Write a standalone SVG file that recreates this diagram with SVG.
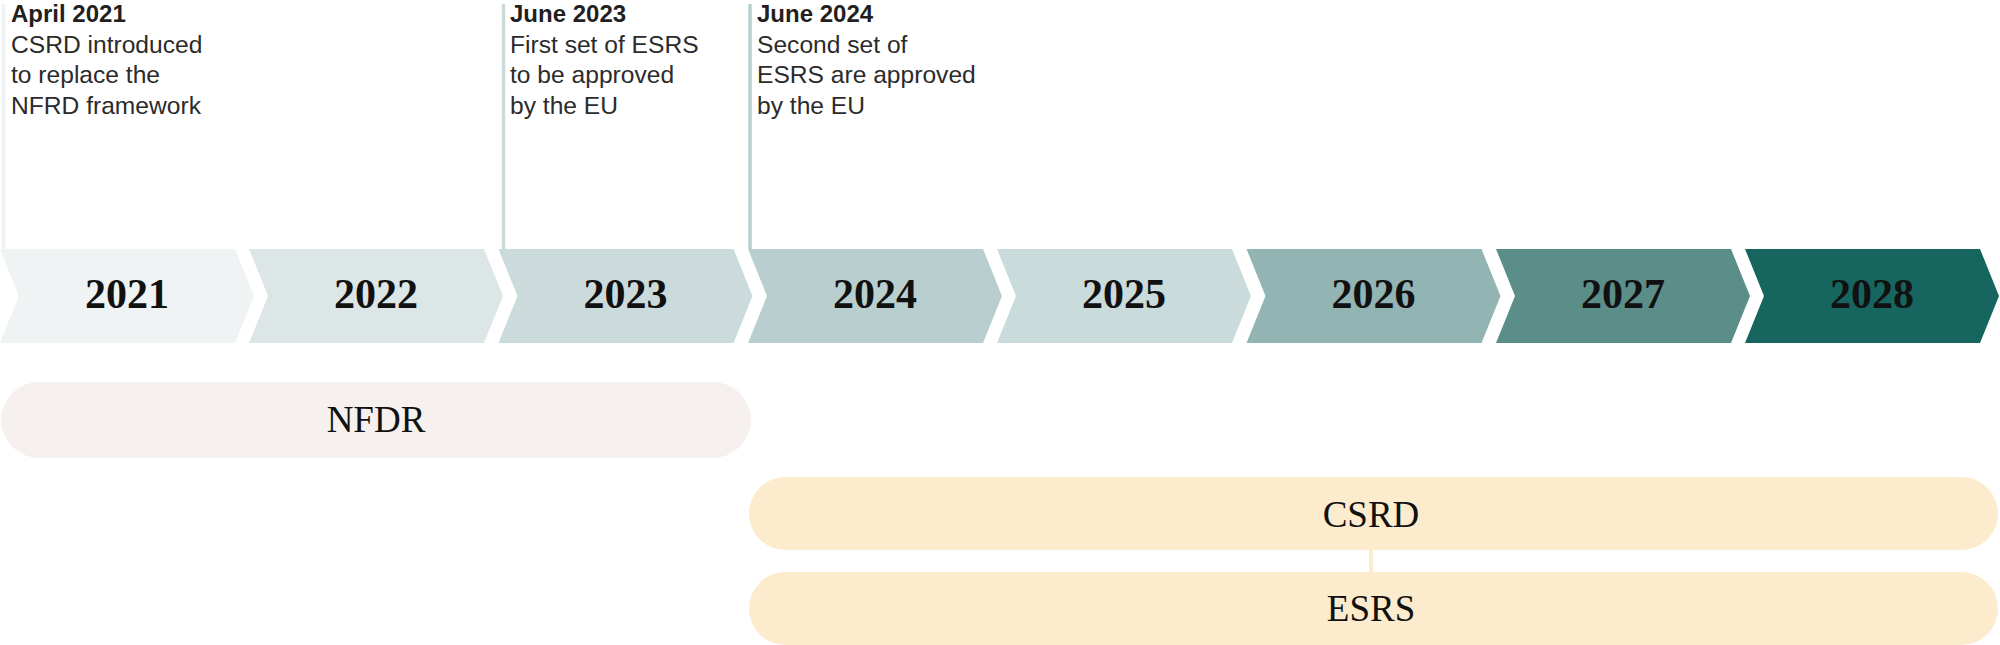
<svg xmlns="http://www.w3.org/2000/svg" width="2000" height="645" viewBox="0 0 2000 645">
  <style>
    .yr { font-family: "Liberation Serif", "DejaVu Serif", serif; font-weight: bold; font-size: 42px; fill: #111111; text-anchor: middle; }
    .bar { font-family: "Liberation Serif", "DejaVu Serif", serif; font-size: 37px; fill: #111111; text-anchor: middle; }
    .hd { font-family: "Liberation Sans", Arial, sans-serif; font-weight: bold; font-size: 24px; fill: #231f20; }
    .tx { font-family: "Liberation Sans", Arial, sans-serif; font-size: 24.6px; fill: #2b2b2b; }
    .mk { stroke-width: 3.5; fill: none; }
  </style>
  <rect width="2000" height="645" fill="#ffffff"/>

  <g id="connectors">
    <line class="mk" x1="3.5" y1="4" x2="3.5" y2="249" stroke="#EEF3F3"/>
    <line class="mk" x1="503.5" y1="4" x2="503.5" y2="249" stroke="#CBDADA"/>
    <line class="mk" x1="750" y1="4" x2="750" y2="249" stroke="#B9CFCF"/>
    <line x1="1371" y1="549" x2="1371" y2="573" stroke="#FCEBCD" stroke-width="4"/>
  </g>

  <g id="note-2021">
    <text class="hd" x="11" y="22">April 2021</text>
    <text class="tx" x="11" y="52.5">CSRD introduced</text>
    <text class="tx" x="11" y="83">to replace the</text>
    <text class="tx" x="11" y="113.5">NFRD framework</text>
  </g>
  <g id="note-2023">
    <text class="hd" x="510" y="22">June 2023</text>
    <text class="tx" x="510" y="52.5">First set of ESRS</text>
    <text class="tx" x="510" y="83">to be approved</text>
    <text class="tx" x="510" y="113.5">by the EU</text>
  </g>
  <g id="note-2024">
    <text class="hd" x="757" y="22">June 2024</text>
    <text class="tx" x="757" y="52.5">Second set of</text>
    <text class="tx" x="757" y="83">ESRS are approved</text>
    <text class="tx" x="757" y="113.5">by the EU</text>
  </g>

  <defs>
    <path id="chev" d="M0,249 L235,249 L254,296 L235,343 L0,343 L19,296 Z"/>
  </defs>

  <g id="y2021">
    <use href="#chev" x="0" fill="#EFF3F3"/>
    <text class="yr" x="127" y="308">2021</text>
  </g>
  <g id="y2022">
    <use href="#chev" x="249" fill="#DDE6E6"/>
    <text class="yr" x="376" y="308">2022</text>
  </g>
  <g id="y2023">
    <use href="#chev" x="498.5" fill="#CBDADA"/>
    <text class="yr" x="625.5" y="308">2023</text>
  </g>
  <g id="y2024">
    <use href="#chev" x="748" fill="#B9CFCF"/>
    <text class="yr" x="875" y="308">2024</text>
  </g>
  <g id="y2025">
    <use href="#chev" x="997" fill="#C9DBDA"/>
    <text class="yr" x="1124" y="308">2025</text>
  </g>
  <g id="y2026">
    <use href="#chev" x="1246.5" fill="#92B4B2"/>
    <text class="yr" x="1373.5" y="308">2026</text>
  </g>
  <g id="y2027">
    <use href="#chev" x="1496" fill="#5B8D89"/>
    <text class="yr" x="1623" y="308">2027</text>
  </g>
  <g id="y2028">
    <use href="#chev" x="1745" fill="#16665F"/>
    <text class="yr" x="1872" y="308">2028</text>
  </g>

  <g id="nfdr">
    <rect x="1" y="382" width="750" height="76" rx="38" fill="#F6F1EE"/>
    <text class="bar" x="376" y="432">NFDR</text>
  </g>
  <g id="csrd">
    <rect x="749" y="477" width="1249" height="73" rx="36.5" fill="#FCEBCD"/>
    <text class="bar" x="1371" y="527">CSRD</text>
  </g>
  <g id="esrs">
    <rect x="749" y="572" width="1249" height="73" rx="36.5" fill="#FCEBCD"/>
    <text class="bar" x="1371" y="621">ESRS</text>
  </g>
</svg>
